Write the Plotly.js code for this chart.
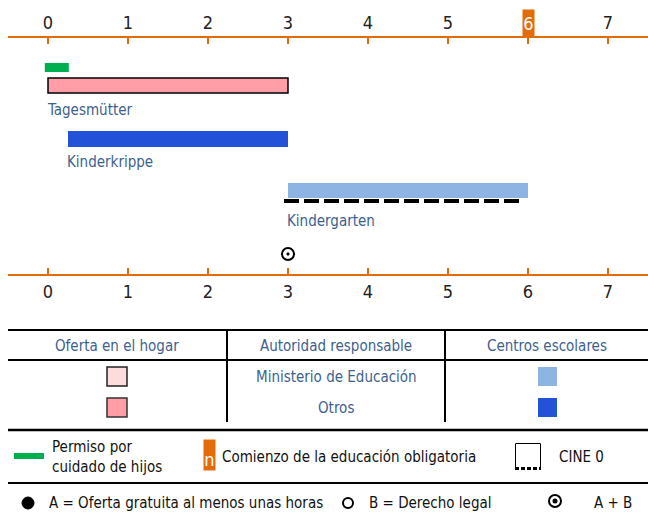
<!DOCTYPE html>
<html>
<head>
<meta charset="utf-8">
<script src="https://cdn.plot.ly/plotly-3.0.1.min.js"></script>
<style>
  html, body { margin: 0; padding: 0; background: #fff; }
  #chart { width: 648px; height: 517px; }
</style>
</head>
<body>
<div id="chart"></div>
<script>
// ages on the two axes
const ages = [0, 1, 2, 3, 4, 5, 6, 7];
const compulsoryAge = 6;

// provision bars (years of age)
const barNames = ['Permiso por cuidado de hijos', 'Tagesmütter', 'Kinderkrippe', 'Kindergarten'];
const barStart = [-0.04, 0, 0.25, 3];
const barEnd = [0.26, 3, 3, 6];

// CINE 0 dashed range and legal entitlement marker
const cine0Range = [2.95, 5.9];
const entitlementAge = [3];

// table texts
const tableHeaders = ['Oferta en el hogar', 'Autoridad responsable', 'Centros escolares'];
const authorities = ['Ministerio de Educación', 'Otros'];

// --- layout stuff (pixel positions, y axis = pixels) ---
const FONT = '"Liberation Sans Narrow", "Arial Narrow", "DejaVu Sans Condensed", sans-serif';
const ORANGE = '#e36c0a';
const TXT = '#3d5f8f';
const rowY = [67.5, 85.5, 139, 190.5];
const rowH = [9, 15, 16, 15];
const rowColor = ['#00b050', '#ff9ea6', '#2351d8', '#8db4e2'];
const rowLine = [0, 1.5, 0, 0];
const labelY = [null, 110, 162, 221];
const P = px => (px - 8) / 640; // paper x from pixel

const bars = {
  type: 'bar', orientation: 'h',
  y: rowY, base: barStart,
  x: barEnd.map((e, i) => e - barStart[i]),
  width: rowH,
  marker: { color: rowColor, line: { color: '#000', width: rowLine } },
  hoverinfo: 'skip', xaxis: 'x', yaxis: 'y'
};

const cineLine = {
  type: 'scatter', mode: 'lines',
  x: cine0Range, y: [201, 201],
  line: { color: '#000', width: 4, dash: '15px,5px' },
  hoverinfo: 'skip', xaxis: 'x', yaxis: 'y'
};

const entitlement = {
  type: 'scatter', mode: 'markers',
  x: entitlementAge, y: [254],
  marker: { symbol: 'circle-open-dot', size: 12, color: '#000', line: { width: 2, color: '#000' } },
  hoverinfo: 'skip', xaxis: 'x2', yaxis: 'y', cliponaxis: false
};

const axisBase = {
  range: [-0.5, 7.5], anchor: 'free', showline: true, linecolor: ORANGE, linewidth: 2,
  ticks: 'inside', ticklen: 6, tickwidth: 2, tickcolor: ORANGE,
  tickvals: ages, ticktext: ages.map(String), showgrid: false, zeroline: false,
  tickfont: { family: FONT, size: 18, color: '#222' }, fixedrange: true
};

const annotations = [];
barNames.forEach((n, i) => {
  if (labelY[i] === null) return;
  annotations.push({ xref: 'x', yref: 'y', x: barStart[i], y: labelY[i], text: n, showarrow: false,
    xanchor: 'left', yanchor: 'middle', xshift: -3, font: { family: FONT, size: 15, color: TXT } });
});
annotations.push({ xref: 'x', yref: 'y', x: compulsoryAge, y: 23.5, text: String(compulsoryAge), showarrow: false,
  bgcolor: ORANGE, width: 11, height: 27, borderpad: 0, xanchor: 'center', yanchor: 'middle',
  font: { family: FONT, size: 18, color: '#fff' } });

const headerX = [117, 336, 547];
tableHeaders.forEach((h, i) => annotations.push({ xref: 'paper', yref: 'y', x: P(headerX[i]), y: 346, text: h,
  showarrow: false, xanchor: 'center', yanchor: 'middle', font: { family: FONT, size: 15, color: TXT } }));
authorities.forEach((a, i) => annotations.push({ xref: 'paper', yref: 'y', x: P(336), y: 377 + i * 31, text: a,
  showarrow: false, xanchor: 'center', yanchor: 'middle', font: { family: FONT, size: 15, color: TXT } }));

const legTxt = (px, y, t) => ({ xref: 'paper', yref: 'y', x: P(px), y: y, text: t, showarrow: false,
  xanchor: 'left', yanchor: 'middle', align: 'left', xshift: -3, font: { family: FONT, size: 15, color: '#111' } });
annotations.push(legTxt(53, 457, 'Permiso por<br>cuidado de hijos'));
annotations.push({ xref: 'paper', yref: 'y', x: P(202.5), y: 455, text: 'n', showarrow: false, bgcolor: ORANGE,
  width: 11, height: 30, borderpad: 0, valign: 'bottom', font: { family: FONT, size: 18, color: '#fff' } });
annotations.push(legTxt(223, 457, 'Comienzo de la educación obligatoria'));
annotations.push(legTxt(560, 457, 'CINE 0'));
annotations.push(legTxt(50, 503, 'A = Oferta gratuita al menos unas horas'));
annotations.push(legTxt(370, 503, 'B = Derecho legal'));
annotations.push(legTxt(595, 503, 'A + B'));

const hline = (y, w) => ({ type: 'line', xref: 'paper', yref: 'y', x0: 0, x1: 1, y0: y, y1: y, line: { color: '#000', width: w } });
const vline = (px, y0, y1) => ({ type: 'line', xref: 'paper', yref: 'y', x0: P(px), x1: P(px), y0: y0, y1: y1, line: { color: '#000', width: 2 } });
const box = (x0, y0, x1, y1, fill, lc, lw) => ({ type: 'rect', xref: 'paper', yref: 'y', x0: P(x0), x1: P(x1), y0: y0, y1: y1,
  fillcolor: fill, line: { color: lc, width: lw } });
const dot = (cx, cy, r, fill, lw) => ({ type: 'circle', xref: 'paper', yref: 'y', x0: P(cx - r), x1: P(cx + r), y0: cy - r, y1: cy + r,
  fillcolor: fill, line: { color: '#000', width: lw } });
const seg = (x0, y0, x1, y1, w, dash) => ({ type: 'line', xref: 'paper', yref: 'y', x0: P(x0), x1: P(x1), y0: y0, y1: y1,
  line: { color: '#000', width: w, dash: dash || 'solid' } });

const shapes = [
  hline(330, 2), hline(360, 2), vline(227, 330, 422), vline(445, 330, 422), hline(430, 2.5), hline(483, 2),
  box(107, 367, 127, 386, '#fcdcdc', '#222', 1.5),
  box(107, 398, 127, 417, '#ff9ea6', '#333', 1.5),
  box(538, 367, 557, 386, '#8db4e2', '#8db4e2', 0),
  box(538, 398, 557, 417, '#2351d8', '#2351d8', 0),
  box(14, 453, 44, 459, '#00b050', '#00b050', 0),
  // CINE 0 legend icon
  seg(515.5, 468, 515.5, 443.5, 1), seg(515.5, 443.5, 540.5, 443.5, 1), seg(540.5, 443.5, 540.5, 468, 1),
  seg(515, 468.5, 541, 468.5, 3, '4px,2px'),
  // A / B / A+B markers
  dot(28, 503, 6, '#000', 1),
  dot(348, 503, 5, 'rgba(0,0,0,0)', 2),
  dot(555, 501, 6, 'rgba(0,0,0,0)', 2),
  dot(555, 501, 2.5, '#000', 0)
];

const layout = {
  width: 648, height: 517,
  margin: { l: 8, r: 0, t: 0, b: 0 },
  paper_bgcolor: '#fff', plot_bgcolor: 'rgba(0,0,0,0)',
  showlegend: false, barmode: 'overlay',
  xaxis: Object.assign({}, axisBase, { side: 'bottom', position: 1 - 275 / 517 }),
  xaxis2: Object.assign({}, axisBase, { side: 'top', overlaying: 'x', position: 1 - 37 / 517 }),
  yaxis: { range: [517, 0], visible: false, fixedrange: true },
  annotations: annotations,
  shapes: shapes
};

Plotly.newPlot('chart', [bars, cineLine, entitlement], layout, { displayModeBar: false, staticPlot: true });
</script>
</body>
</html>
